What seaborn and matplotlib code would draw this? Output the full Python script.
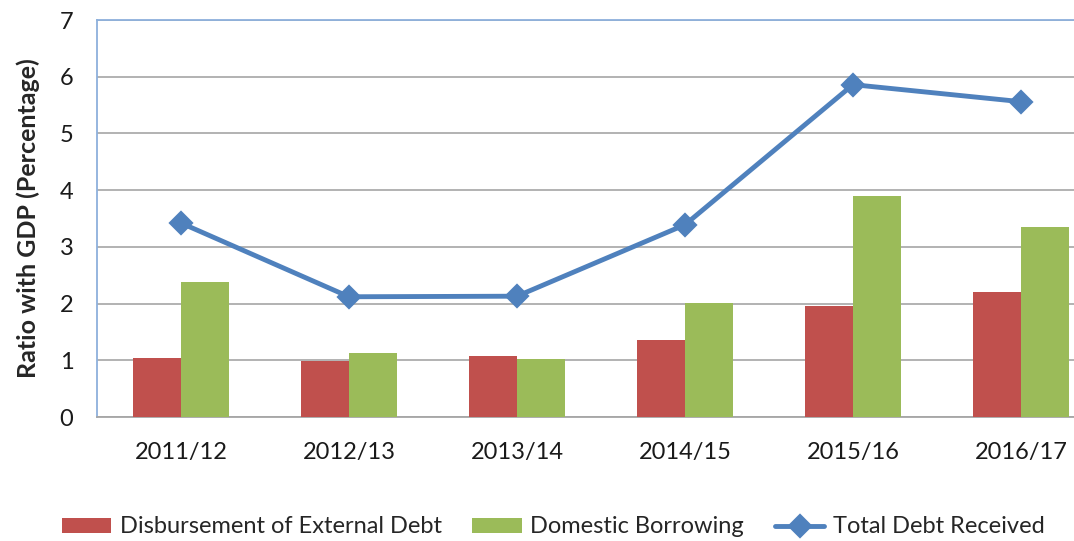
import pandas as pd
import numpy as np
import matplotlib
matplotlib.use("Agg")
import matplotlib.pyplot as plt
import seaborn as sns

# --- data ---
years = ['2011/12', '2012/13', '2013/14', '2014/15', '2015/16', '2016/17']
external = [1.04, 0.99, 1.08, 1.36, 1.96, 2.20]
domestic = [2.38, 1.13, 1.02, 2.01, 3.90, 3.35]
total = [3.42, 2.12, 2.13, 3.39, 5.86, 5.56]

series_names = ['Disbursement of External Debt', 'Domestic Borrowing']
line_name = 'Total Debt Received'

bars = pd.DataFrame({
    'Year': years * 2,
    'Value': external + domestic,
    'Series': [series_names[0]] * len(years) + [series_names[1]] * len(years),
})

RED = '#C0504D'
GREEN = '#9BBB59'
BLUE = '#4F81BD'

sns.set_style("white")
plt.rcParams['font.family'] = ['Lato', 'DejaVu Sans']

fig = plt.figure(figsize=(10.74, 5.41), dpi=100)
# plot area runs past the right edge, as in the reference crop
ax = fig.add_axes([97 / 1074, 124 / 541, 1008 / 1074, 397 / 541])

sns.barplot(data=bars, x='Year', y='Value', hue='Series', order=years,
            palette=[RED, GREEN], width=0.5714, gap=0, saturation=1,
            edgecolor='none', ax=ax, zorder=3)
sns.pointplot(x=years, y=total, order=years, color=BLUE, markers='D',
              linewidth=3.5, markersize=10, label=line_name, ax=ax, zorder=4)

ax.set_xlim(-0.5, 5.5)
ax.set_ylim(0, 7)
ax.set_yticks(range(0, 8))
ax.yaxis.grid(True, color='#A6A6A6', linewidth=1.2, zorder=0)
ax.set_axisbelow(True)
ax.tick_params(axis='both', length=0, labelsize=17, colors='#1a1a1a')
ax.tick_params(axis='x', pad=18)
ax.tick_params(axis='y', pad=17)

ax.set_xlabel('')
ax.set_ylabel('Ratio with GDP (Percentage)', fontsize=18, fontweight='bold',
              labelpad=14)

for side in ['left', 'top']:
    ax.spines[side].set_color('#8DB0DC')
    ax.spines[side].set_linewidth(1.3)
ax.spines['bottom'].set_color('#A6A6A6')
ax.spines['bottom'].set_linewidth(1.3)
ax.spines['right'].set_visible(False)

handles, labels = ax.get_legend_handles_labels()
if ax.get_legend() is not None:
    ax.get_legend().remove()
fig.legend(handles, labels, loc='center', bbox_to_anchor=(0.515, 0.026),
           ncol=3, frameon=False, fontsize=17, handlelength=2.1,
           handleheight=0.6, columnspacing=1.3, handletextpad=0.35,
           borderpad=0, borderaxespad=0)

fig.savefig('out.png', dpi=100)
